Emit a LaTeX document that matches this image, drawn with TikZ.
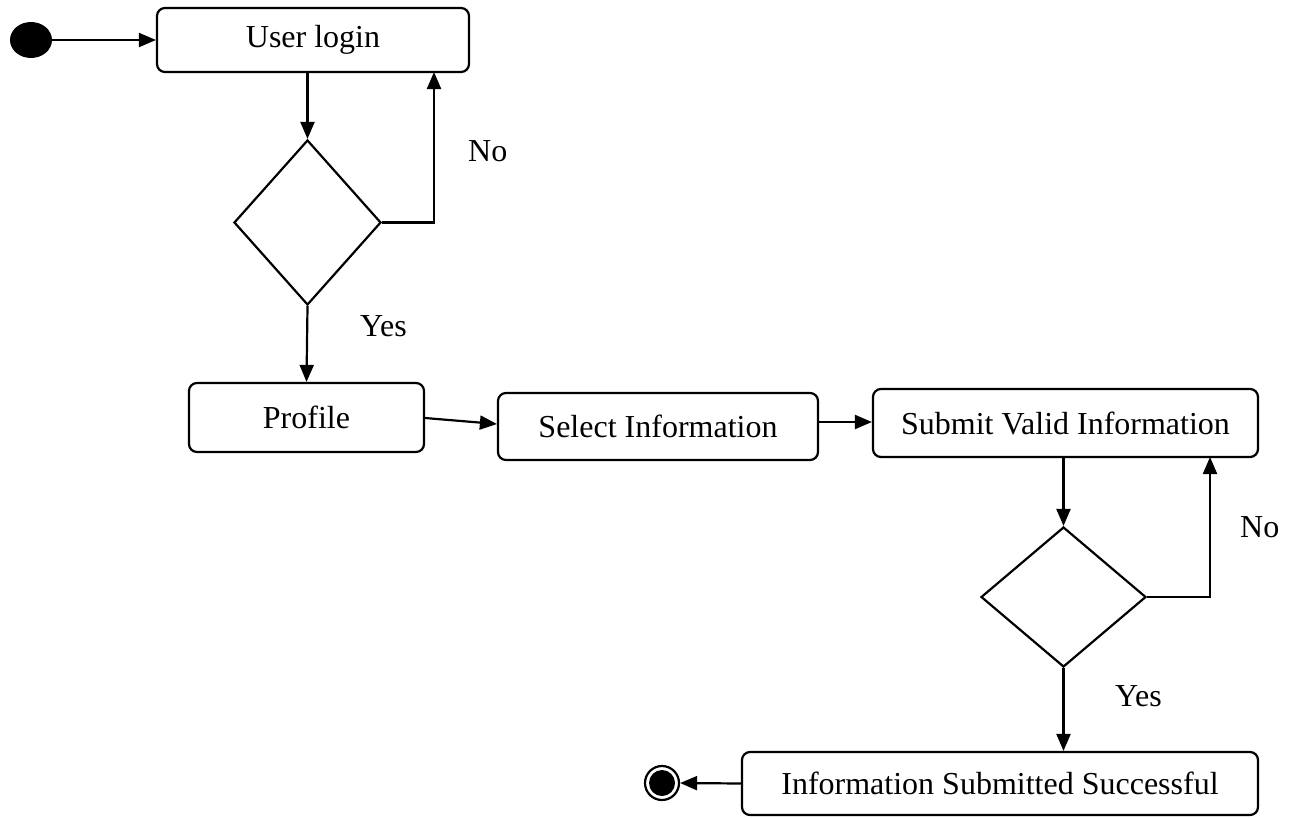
\documentclass[tikz,border=0pt]{standalone}
\usepackage{fontspec}
\setmainfont{Liberation Serif}
\usetikzlibrary{shapes.geometric,arrows.meta}
\begin{document}
\begin{tikzpicture}[x=1pt,y=-1pt,
  box/.style={draw,line width=2.2pt,rounded corners=8pt,inner sep=0pt,font=\fontsize{32}{38}\selectfont},
  dec/.style={draw,shape=diamond,line width=2.2pt,inner sep=0pt},
  arr/.style={line width=2.2pt,-{Triangle[length=17pt,width=14pt]}},
  lab/.style={font=\fontsize{32}{38}\selectfont,inner sep=0pt,anchor=base west}]
\useasboundingbox (0,0) rectangle (1295,817);
\node[fill=black,ellipse,minimum width=42pt,minimum height=36pt,inner sep=0pt] (start) at (31,40) {};
\node[box,minimum width=312pt,minimum height=64pt] (login) at (313,40) {User login};
\node[dec,minimum width=147pt,minimum height=165pt] (d1) at (307.5,222.5) {};
\node[box,minimum width=235pt,minimum height=69pt] (profile) at (306.5,417.5) {Profile};
\node[box,minimum width=320pt,minimum height=67pt] (select) at (658,426.5) {Select Information};
\node[box,minimum width=385pt,minimum height=68pt] (submit) at (1065.5,423) {Submit Valid Information};
\node[dec,minimum width=165pt,minimum height=140pt] (d2) at (1063.5,597) {};
\node[box,minimum width=516pt,minimum height=63pt] (final) at (1000,783.5) {Information Submitted Successful};
\node[circle,draw,line width=2.2pt,minimum size=34pt,inner sep=0pt] (end) at (662,783) {};
\node[circle,fill=black,minimum size=26pt,inner sep=0pt] (endin) at (end.center) {};
\node[lab] (no1) at (468,161) {No};
\node[lab] (yes1) at (360,336) {Yes};
\node[lab] (no2) at (1240,537) {No};
\node[lab] (yes2) at (1115,706) {Yes};
\coordinate (n1) at (434,72);
\coordinate (n2) at (1210,457);
\draw[arr] (start.east) -- (login.west);
\draw[arr] (d1.north |- login.south) -- (d1.north);
\draw[arr] (d1.east) -| (n1);
\draw[arr] (d1.south) -- (profile.north);
\draw[arr] ([yshift=-0.5pt]profile.east) -- ([yshift=2.5pt]select.west);
\draw[arr] ([yshift=4.5pt]select.east) -- ([yshift=1pt]submit.west);
\draw[arr] (d2.north |- submit.south) -- (d2.north);
\draw[arr] (d2.east) -| (n2);
\draw[arr] (d2.south) -- (d2.south |- final.north);
\draw[arr] (final.west) -- (end.east);
\end{tikzpicture}
\end{document}
